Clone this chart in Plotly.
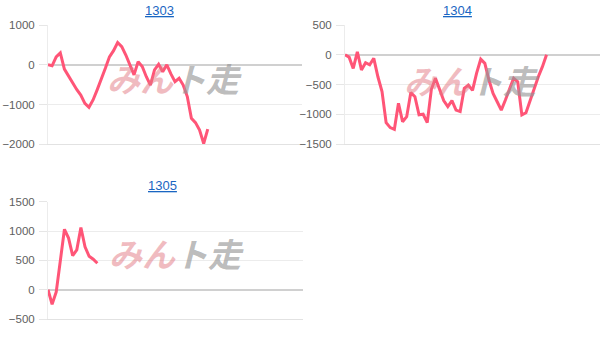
import plotly.graph_objects as go

W, H = 609, 345

titles = ["1303", "1304", "1305"]

vals_1303 = [0, -25, 200, 300, -110, -280, -470, -620, -760, -970, -1070, -885, -630, -380, -90,
             200, 355, 560, 455, 245, 0, -255, 80, -45, -300, -510, -130, 10, -175, 0, -230,
             -425, -340, -510, -800, -1345, -1455, -1640, -1980, -1620]
vals_1304 = [0, -40, -230, 50, -255, -135, -170, -60, -370, -620, -1140, -1225, -1255, -815, -1125,
             -1040, -635, -705, -1010, -1000, -1140, -580, -395, -580, -770, -870, -770, -930, -955,
             -565, -510, -600, -310, -75, -145, -425, -650, -790, -930, -760, -565, -395, -455,
             -1010, -975, -760, -550, -370, -200, 0]
vals_1305 = [0, -250, -40, 470, 1030, 880, 580, 680, 1060, 730, 570, 520, 450]

series = [vals_1303, vals_1304, vals_1305]
y_ranges = [[-2000, 1000], [-1500, 500], [-500, 1500]]
y_dticks = [1000, 500, 500]
x_max = 62

# panel boxes in pixels: (left, right, top, bottom)
boxes = [(48, 302, 25, 144.3), (345, 600, 25, 144), (48, 303, 201.7, 319)]

LINE = "#ff5577"
FONT = "Arial, Liberation Sans, sans-serif"

fig = go.Figure()
annotations = []
for i, (vals, box) in enumerate(zip(series, boxes)):
    n = i + 1
    xa = "x" if n == 1 else f"x{n}"
    ya = "y" if n == 1 else f"y{n}"
    fig.add_trace(go.Scatter(
        x=list(range(len(vals))), y=vals, mode="lines",
        line=dict(color=LINE, width=3), xaxis=xa, yaxis=ya,
        showlegend=False, hoverinfo="skip"))
    l, r, t, b = box
    xdom = [l / W, r / W]
    ydom = [1 - b / H, 1 - t / H]
    xkey = "xaxis" if n == 1 else f"xaxis{n}"
    ykey = "yaxis" if n == 1 else f"yaxis{n}"
    fig.update_layout(**{
        xkey: dict(domain=xdom, range=[0, x_max], showticklabels=False, showgrid=False,
                   zeroline=False, showline=True, linecolor="#e2e2e2", linewidth=1,
                   anchor=ya, fixedrange=True, automargin=False),
        ykey: dict(domain=ydom, range=y_ranges[i], dtick=y_dticks[i], showgrid=True,
                   gridcolor="#ececec", gridwidth=1, zeroline=True, zerolinecolor="#d0d0d0",
                   zerolinewidth=1.5, showline=True, linecolor="#ececec", linewidth=1,
                   ticks="outside", ticklen=8, tickcolor="#e6e6e6", tickwidth=1,
                   ticklabelstandoff=2, automargin=False,
                   tickfont=dict(family=FONT, size=11.5, color="#606060"),
                   anchor=xa, fixedrange=True),
    })
    # title
    title_cx = [159, 457, 162][i]
    title_cy = [10, 10, 185][i]
    annotations.append(dict(
        text=f"<u>{titles[i]}</u>", x=title_cx / W, y=1 - title_cy / H,
        xref="paper", yref="paper", showarrow=False, xanchor="center", yanchor="middle",
        font=dict(family=FONT, size=13, color="#1a66c2")))
    # watermark logo
    logo_cx = [174, 471, 176][i]
    logo_cy = [78, 80, 253][i]
    annotations.append(dict(
        text="<b><i><span style='color:rgba(226,120,130,0.5)'>みん</span>"
             "<span style='color:rgba(150,150,150,0.65)'>ト走</span></i></b>",
        x=logo_cx / W, y=1 - logo_cy / H, xref="paper", yref="paper",
        showarrow=False, xanchor="center", yanchor="middle",
        font=dict(family="Noto Sans CJK JP", size=33)))

fig.update_layout(
    template="none",
    width=W, height=H, margin=dict(l=0, r=0, t=0, b=0, pad=0, autoexpand=False),
    paper_bgcolor="white", plot_bgcolor="white",
    annotations=annotations, font=dict(family=FONT),
)

fig.write_html("out.html", config={"displayModeBar": False})
